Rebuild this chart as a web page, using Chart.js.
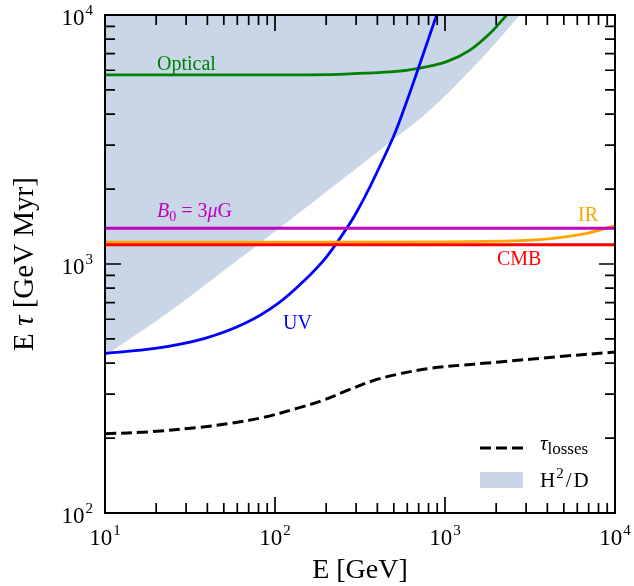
<!DOCTYPE html>
<html>
<head>
<meta charset="utf-8">
<script src="https://cdn.jsdelivr.net/npm/chart.js@4.4.1/dist/chart.umd.min.js"></script>
<style>
  html, body { margin: 0; padding: 0; background: #fff; }
  canvas { display: block; }
</style>
</head>
<body>
<canvas id="myChart" width="634" height="586"></canvas>
<script>
// values (E in GeV, E*tau in GeV Myr)
const lossE = [10, 18.4, 36.2, 54.3, 85.3, 134.3, 192.5, 264, 378, 520, 816, 1282, 1680, 2090, 4745, 10000];
const lossT = [208, 212, 221, 229, 242, 263, 284, 310, 340, 360, 381, 393, 399, 404, 425, 443];

const opticalE = [10, 100, 200, 331, 500, 697, 1024, 1403, 1841, 2306];
const opticalT = [5745, 5745, 5760, 5840, 5920, 6110, 6500, 7230, 8440, 10000];

const uvE = [10, 19.7, 38.7, 66.6, 104.4, 150, 201, 264, 303, 362, 497, 590, 697, 893];
const uvT = [438, 458, 503, 578, 695, 863, 1069, 1390, 1622, 2043, 3243, 4416, 6110, 10000];

const irE = [10, 1000, 2761, 4335, 6823, 10000];
const irT = [1225, 1228, 1241, 1268, 1327, 1426];

const cmbE = [10, 10000];
const cmbT = [1195, 1195];

const bfieldE = [10, 10000];
const bfieldT = [1392, 1392];

const diffE = [10, 24.7, 62.2, 122.4, 415, 816, 1607, 2761];
const diffT = [428, 653, 1054, 1503, 2871, 4150, 6590, 10000];

const xTicks = [10, 100, 1000, 10000];
const xTickExp = ['1', '2', '3', '4'];
const yTicks = [100, 1000, 10000];
const yTickExp = ['2', '3', '4'];

const SERIF = '"Liberation Serif", "DejaVu Serif", serif';
const fillColor = '#c8d6e8';

function points(xs, ys) {
    return xs.map((x, i) => ({ x: x, y: ys[i] }));
}

function curve(label, xs, ys, color, order, extra) {
    return Object.assign({
        label: label,
        data: points(xs, ys),
        borderColor: color,
        borderWidth: 2.8,
        pointRadius: 0,
        fill: false,
        tension: 0.35,
        clip: 0,
        order: order,
    }, extra || {});
}

// draw a row of text pieces (normal, sub, sup) starting at x
function drawRuns(ctx, x, y, runs, align) {
    let total = 0;
    runs.forEach(r => { ctx.font = r.font; total += ctx.measureText(r.t).width + (r.gap || 0); });
    let cx = x;
    if (align === 'right') cx = x - total;
    if (align === 'center') cx = x - total / 2;
    ctx.textAlign = 'left';
    ctx.textBaseline = 'alphabetic';
    runs.forEach(r => {
        ctx.font = r.font;
        ctx.fillText(r.t, cx, y + (r.dy || 0));
        cx += ctx.measureText(r.t).width + (r.gap || 0);
    });
}

const decorations = {
    id: 'decorations',
    afterDraw(chart) {
        const ctx = chart.ctx;
        const area = chart.chartArea;
        const xs = chart.scales.x;
        const ys = chart.scales.y;
        ctx.save();

        // frame
        ctx.strokeStyle = '#000';
        ctx.lineWidth = 2;
        ctx.strokeRect(area.left, area.top, area.right - area.left, area.bottom - area.top);

        // inward ticks on all four sides
        ctx.lineWidth = 1.7;
        function xTick(v, len) {
            const px = xs.getPixelForValue(v);
            ctx.beginPath();
            ctx.moveTo(px, area.bottom); ctx.lineTo(px, area.bottom - len);
            ctx.moveTo(px, area.top); ctx.lineTo(px, area.top + len);
            ctx.stroke();
        }
        function yTick(v, len) {
            const py = ys.getPixelForValue(v);
            ctx.beginPath();
            ctx.moveTo(area.left, py); ctx.lineTo(area.left + len, py);
            ctx.moveTo(area.right, py); ctx.lineTo(area.right - len, py);
            ctx.stroke();
        }
        xTicks.forEach((d, i) => {
            xTick(d, 16);
            if (i < xTicks.length - 1) for (let k = 2; k <= 9; k++) xTick(d * k, 10);
        });
        yTicks.forEach((d, i) => {
            yTick(d, 16);
            if (i < yTicks.length - 1) for (let k = 2; k <= 9; k++) yTick(d * k, 10);
        });

        // tick labels
        ctx.fillStyle = '#000';
        const big = '23px ' + SERIF;
        const small = '15px ' + SERIF;
        xTicks.forEach((v, i) => {
            drawRuns(ctx, xs.getPixelForValue(v), area.bottom + 32,
                [{ t: '10', font: big, gap: 1 }, { t: xTickExp[i], font: small, dy: -10 }], 'center');
        });
        yTicks.forEach((v, i) => {
            drawRuns(ctx, area.left - 12, ys.getPixelForValue(v) + 10,
                [{ t: '10', font: big, gap: 1 }, { t: yTickExp[i], font: small, dy: -10 }], 'right');
        });

        // axis titles
        const title = '28px ' + SERIF;
        drawRuns(ctx, (area.left + area.right) / 2, 578, [{ t: 'E [GeV]', font: title }], 'center');
        ctx.save();
        ctx.translate(33, (area.top + area.bottom) / 2);
        ctx.rotate(-Math.PI / 2);
        drawRuns(ctx, 0, 0, [
            { t: 'E ', font: '29px ' + SERIF },
            { t: 'τ', font: 'italic 29px ' + SERIF },
            { t: ' [GeV Myr]', font: '29px ' + SERIF },
        ], 'center');
        ctx.restore();

        // curve labels
        const lab = '20px ' + SERIF;
        const labIt = 'italic 20px ' + SERIF;
        ctx.fillStyle = '#008000';
        drawRuns(ctx, 157, 70, [{ t: 'Optical', font: lab }], 'left');
        ctx.fillStyle = '#bf00bf';
        drawRuns(ctx, 157, 217, [
            { t: 'B', font: labIt },
            { t: '0', font: '14px ' + SERIF, dy: 4 },
            { t: ' = 3', font: lab },
            { t: 'μ', font: labIt },
            { t: 'G', font: lab },
        ], 'left');
        ctx.fillStyle = '#ffa500';
        drawRuns(ctx, 578, 221, [{ t: 'IR', font: lab }], 'left');
        ctx.fillStyle = '#ff0000';
        drawRuns(ctx, 497, 265, [{ t: 'CMB', font: lab }], 'left');
        ctx.fillStyle = '#0000ff';
        drawRuns(ctx, 283, 329, [{ t: 'UV', font: lab }], 'left');

        // legend
        ctx.strokeStyle = '#000';
        ctx.lineWidth = 3;
        ctx.setLineDash([11, 5]);
        ctx.beginPath();
        ctx.moveTo(480, 448); ctx.lineTo(523, 448);
        ctx.stroke();
        ctx.setLineDash([]);
        ctx.fillStyle = fillColor;
        ctx.fillRect(480, 472, 43, 16);
        ctx.fillStyle = '#000';
        drawRuns(ctx, 540, 450, [
            { t: 'τ', font: 'italic 21px ' + SERIF },
            { t: 'losses', font: '17px ' + SERIF, dy: 4 },
        ], 'left');
        drawRuns(ctx, 540, 487, [
            { t: 'H', font: '21px ' + SERIF, gap: 1 },
            { t: '2', font: '15px ' + SERIF, dy: -9, gap: 2 },
            { t: '/', font: '21px ' + SERIF, gap: 2 },
            { t: 'D', font: '21px ' + SERIF },
        ], 'left');

        ctx.restore();
    }
};

const ctx = document.getElementById('myChart').getContext('2d');

const myChart = new Chart(ctx, {
    type: 'line',
    data: {
        datasets: [
            curve('B0 = 3 muG', bfieldE, bfieldT, '#bf00bf', 1),
            curve('CMB', cmbE, cmbT, '#ff0000', 2),
            curve('IR', irE, irT, '#ffa500', 3),
            curve('UV', uvE, uvT, '#0000ff', 4),
            curve('Optical', opticalE, opticalT, '#008000', 5),
            curve('tau losses', lossE, lossT, '#000000', 6, { borderDash: [11, 5], borderWidth: 3 }),
            curve('H2/D', diffE, diffT, fillColor, 7, {
                borderWidth: 0,
                fill: 'end',
                backgroundColor: fillColor,
            }),
        ],
    },
    options: {
        responsive: false,
        animation: false,
        layout: { padding: { left: 105, right: 19, top: 15, bottom: 73 } },
        scales: {
            x: { type: 'logarithmic', min: 10, max: 10000, display: false },
            y: { type: 'logarithmic', min: 100, max: 10000, display: false },
        },
        plugins: {
            legend: { display: false },
            tooltip: { enabled: false },
        },
    },
    plugins: [decorations],
});
</script>
</body>
</html>
